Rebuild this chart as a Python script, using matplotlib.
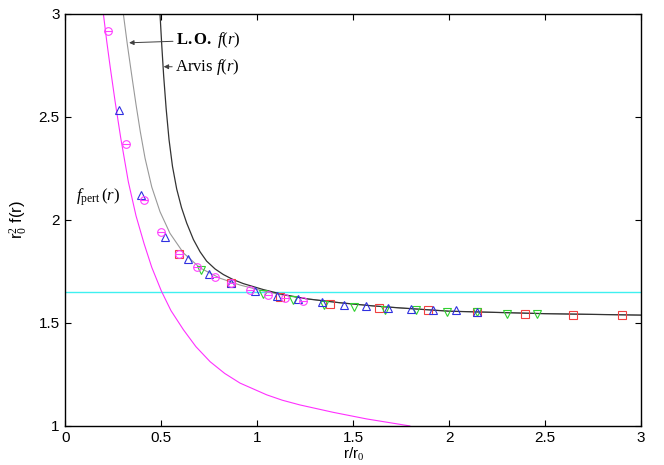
import matplotlib
matplotlib.use("Agg")
import matplotlib.pyplot as plt

# curves (r/r0, r0^2 f(r))
pert_r = [0.198, 0.215, 0.233, 0.259, 0.288, 0.328, 0.368, 0.41, 0.45, 0.50, 0.55,
          0.615, 0.68, 0.754, 0.83, 0.91, 1.049, 1.13, 1.222, 1.396, 1.57, 1.795]
pert_f = [3.0, 2.87, 2.745, 2.575, 2.40, 2.185, 2.02, 1.885, 1.77, 1.655, 1.56,
          1.467, 1.385, 1.312, 1.255, 1.208, 1.151, 1.125, 1.102, 1.066, 1.034, 1.0]

lo_r = [0.302, 0.323, 0.346, 0.368, 0.39, 0.415, 0.45, 0.493, 0.545, 0.615, 0.702,
        0.806, 0.91, 1.014, 1.118, 1.222, 1.33, 1.431, 1.6, 1.743, 2.0, 2.5, 3.0]
lo_f = [3.0, 2.85, 2.70, 2.56, 2.43, 2.30, 2.16, 2.04, 1.935, 1.84, 1.767,
        1.717, 1.684, 1.659, 1.638, 1.622, 1.609, 1.598, 1.583, 1.573, 1.557, 1.545, 1.538]

arvis_r = [0.493, 0.502, 0.512, 0.525, 0.540, 0.558, 0.58, 0.605, 0.632, 0.667, 0.702,
           0.736, 0.78, 0.823, 0.875, 0.927, 1.031, 1.135, 1.257, 1.431, 1.6, 1.743,
           2.0, 2.5, 3.0]
arvis_f = [3.0, 2.85, 2.70, 2.54, 2.39, 2.26, 2.15, 2.06, 1.985, 1.905, 1.845,
           1.80, 1.762, 1.735, 1.71, 1.691, 1.662, 1.638, 1.617, 1.598, 1.583, 1.573,
           1.557, 1.545, 1.538]

cyan_level = 1.65

# lattice data points
circ_x = [0.221, 0.314, 0.408, 0.498, 0.594, 0.684, 0.777, 0.863, 0.962, 1.054, 1.144, 1.236]
circ_y = [2.919, 2.371, 2.096, 1.941, 1.837, 1.770, 1.724, 1.694, 1.660, 1.637, 1.620, 1.608]

tri_x = [0.278, 0.394, 0.518, 0.637, 0.75, 0.863, 0.988, 1.101, 1.214, 1.335, 1.451,
         1.566, 1.683, 1.799, 1.917, 2.033, 2.143]
tri_y = [2.534, 2.121, 1.918, 1.808, 1.738, 1.694, 1.657, 1.629, 1.617, 1.600, 1.589,
         1.581, 1.573, 1.568, 1.565, 1.561, 1.551]

dtri_x = [0.705, 1.028, 1.188, 1.348, 1.505, 1.664, 1.827, 1.986, 2.143, 2.302, 2.46]
dtri_y = [1.756, 1.639, 1.613, 1.589, 1.578, 1.565, 1.561, 1.553, 1.551, 1.545, 1.544]

sq_x = [0.594, 0.863, 1.118, 1.379, 1.634, 1.888, 2.143, 2.394, 2.646, 2.901]
sq_y = [1.837, 1.694, 1.626, 1.592, 1.573, 1.561, 1.551, 1.545, 1.540, 1.539]

xticks = [0, 0.5, 1, 1.5, 2, 2.5, 3]
xtick_labels = ['0', '0.5', '1', '1.5', '2', '2.5', '3']
yticks = [1, 1.5, 2, 2.5, 3]
ytick_labels = ['1', '1.5', '2', '2.5', '3']

plt.rcParams['font.family'] = ['Liberation Sans', 'DejaVu Sans']
plt.rcParams['mathtext.fontset'] = 'custom'
plt.rcParams['mathtext.rm'] = 'Liberation Serif'
plt.rcParams['mathtext.it'] = 'Liberation Serif:italic'
plt.rcParams['mathtext.bf'] = 'Liberation Serif:bold'

fig = plt.figure(figsize=(6.64, 4.65), dpi=100)
ax = fig.add_axes([0.0985, 0.084, 0.867, 0.886])

ax.axhline(cyan_level, color='#3ff0f0', lw=1.0, zorder=1)
ax.plot(pert_r, pert_f, color='#ff30ff', lw=0.8, zorder=2)
ax.plot(lo_r, lo_f, color='#999999', lw=0.8, zorder=2)
ax.plot(arvis_r, arvis_f, color='#333333', lw=0.9, zorder=2)

ms = 5.5
ax.plot(sq_x, sq_y, 's', ms=ms, mfc='none', mec='#f04040', mew=0.8, zorder=3)
ax.plot(dtri_x, dtri_y, 'v', ms=ms, mfc='none', mec='#30d030', mew=0.8, zorder=3)
ax.plot(tri_x, tri_y, '^', ms=ms, mfc='none', mec='#3030e0', mew=0.8, zorder=3)
ax.plot(circ_x, circ_y, 'o', ms=ms, mfc='none', mec='#ff40ff', mew=0.8, zorder=4)
ax.plot(circ_x, circ_y, '_', ms=ms, mec='#ff40ff', mew=0.8, zorder=4)

arrow = dict(arrowstyle='-|>', color='#404040', lw=0.7, mutation_scale=7,
             shrinkA=0, shrinkB=0)
ax.annotate(r'$\mathbf{L.O.}\ f(r)$', xy=(0.332, 2.86), xytext=(0.575, 2.873),
            fontsize=12, va='center', ha='left', arrowprops=arrow)
ax.annotate(r'Arvis $f(r)$', xy=(0.512, 2.744), xytext=(0.571, 2.742),
            fontsize=12, va='center', ha='left', family='Liberation Serif',
            arrowprops=arrow)
ax.text(0.056, 2.109, r'$f_{\rm pert}\,(r)$', fontsize=12, va='center', ha='left')

ax.set_xlim(0, 3)
ax.set_ylim(1, 3)
ax.set_xticks(xticks)
ax.set_yticks(yticks)
ax.set_xticklabels(xtick_labels)
ax.set_yticklabels(ytick_labels)
ax.tick_params(direction='in', length=4, width=0.8, top=True, right=True,
               labelsize=11, pad=4)
for s in ax.spines.values():
    s.set_linewidth(1.0)

ax.set_xlabel(r'r/r$_0$', fontsize=11, labelpad=0)
ax.set_ylabel(r'r$_0^2$ f(r)', fontsize=12, labelpad=6)

fig.savefig('out.png', dpi=100)
